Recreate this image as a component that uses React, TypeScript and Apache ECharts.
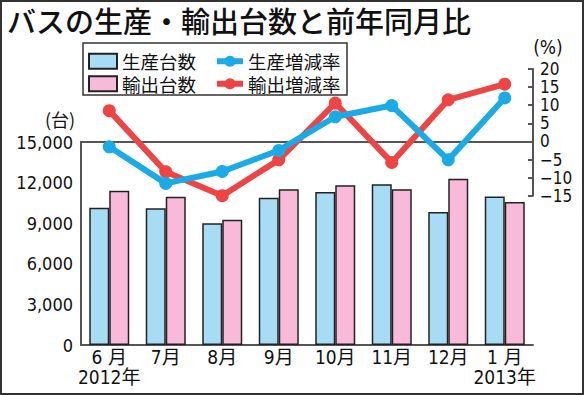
import React, { useEffect, useRef } from "react";
import * as echarts from "echarts";

const categories = ["6 月", "7月", "8月", "9月", "10月", "11月", "12月", "1 月"];
const yearLabels = ["2012年", "", "", "", "", "", "", "2013年"];
const productionUnits = [10150, 10100, 9000, 10880, 11300, 11870, 9830, 10980];
const exportUnits = [11400, 10950, 9250, 11500, 11800, 11500, 12290, 10560];
const productionChange = [-1.5, -11.6, -8.3, -2.5, 6.8, 9.9, -5.1, 12.0];
const exportChange = [8.5, -8.4, -15.0, -5.1, 10.6, -5.8, 11.5, 15.8];

const NUM_FONT = "'DejaVu Sans Condensed', 'Noto Sans CJK JP', sans-serif";
const JP_FONT = "'Noto Sans CJK JP', sans-serif";

const BLUE_BAR = "#a7dcf5";
const PINK_BAR = "#f9b9d8";
const BLUE_LINE = "#1aabe6";
const RED_LINE = "#ee4443";
const AXIS = "#555555";

export default function App() {
  const ref = useRef<HTMLDivElement>(null);
  useEffect(() => {
    document.body.style.margin = "0";
    const chart = echarts.init(ref.current!, null, { renderer: "svg" });
    chart.setOption({
      animation: false,
      backgroundColor: "#ffffff",
      title: {
        text: "バスの生産・輸出台数と前年同月比",
        left: 7,
        top: 5,
        padding: 0,
        textStyle: { fontFamily: JP_FONT, fontSize: 29, fontWeight: 500, color: "#111" },
      },
      legend: [
        {
          data: ["生産台数", "輸出台数"],
          orient: "vertical",
          left: 88,
          top: 52,
          padding: 0,
          itemWidth: 28,
          itemHeight: 15,
          itemGap: 4,
          icon: "rect",
          textStyle: { fontFamily: JP_FONT, fontSize: 18.5, lineHeight: 18, color: "#111" },
        },
        {
          data: ["生産増減率", "輸出増減率"],
          orient: "vertical",
          left: 214,
          top: 52,
          padding: 0,
          itemWidth: 26,
          itemHeight: 14,
          itemGap: 4,
          lineStyle: { width: 6 },
          textStyle: { fontFamily: JP_FONT, fontSize: 18.5, lineHeight: 18, color: "#111" },
        },
      ],
      grid: [
        { left: 81, right: 51, top: 142, bottom: 50 },
        { left: 81, right: 51, top: 69, bottom: 199.3 },
      ],
      xAxis: [
        {
          type: "category",
          gridIndex: 0,
          data: categories,
          axisLine: { show: true, lineStyle: { color: AXIS, width: 2 } },
          axisTick: { show: false },
          axisLabel: {
            margin: 2,
            interval: 0,
            formatter: (value: string, index: number) =>
              yearLabels[index] ? `{m|${value}}\n{y|${yearLabels[index]}}` : `{m|${value}}`,
            rich: {
              m: { fontFamily: NUM_FONT, fontSize: 19, lineHeight: 20, color: "#111" },
              y: { fontFamily: NUM_FONT, fontSize: 19, lineHeight: 20, color: "#111" },
            },
          },
        },
        {
          type: "category",
          gridIndex: 1,
          data: categories,
          axisLine: { show: true, onZero: true, lineStyle: { color: AXIS, width: 2 } },
          axisTick: { show: false },
          axisLabel: { show: false },
        },
      ],
      yAxis: [
        {
          type: "value",
          gridIndex: 0,
          min: 0,
          max: 15000,
          interval: 3000,
          axisLine: { show: true, lineStyle: { color: AXIS, width: 2 } },
          axisTick: { show: false },
          splitLine: { show: false },
          axisLabel: {
            margin: 8,
            fontFamily: NUM_FONT,
            fontSize: 18,
            color: "#111",
            formatter: (v: number) => v.toLocaleString("en-US"),
          },
        },
        {
          type: "value",
          gridIndex: 1,
          position: "right",
          min: -15,
          max: 20,
          interval: 5,
          axisLine: { show: true, lineStyle: { color: AXIS, width: 2 } },
          axisTick: { show: true, inside: true, length: 5, lineStyle: { color: AXIS, width: 2 } },
          splitLine: { show: false },
          axisLabel: {
            margin: 7,
            fontFamily: NUM_FONT,
            fontSize: 17,
            lineHeight: 15,
            color: "#111",
            showMinLabel: true,
            showMaxLabel: true,
            hideOverlap: false,
            formatter: (v: number) => (v < 0 ? "−" + Math.abs(v) : String(v)),
          },
        },
      ],
      series: [
        {
          name: "生産台数",
          type: "bar",
          xAxisIndex: 0,
          yAxisIndex: 0,
          data: productionUnits,
          barWidth: 20,
          barGap: "0%",
          itemStyle: { color: BLUE_BAR, borderColor: "#222", borderWidth: 1.5 },
        },
        {
          name: "輸出台数",
          type: "bar",
          xAxisIndex: 0,
          yAxisIndex: 0,
          data: exportUnits,
          barWidth: 20,
          barGap: "0%",
          itemStyle: { color: PINK_BAR, borderColor: "#222", borderWidth: 1.5 },
        },
        {
          name: "輸出増減率",
          type: "line",
          xAxisIndex: 1,
          yAxisIndex: 1,
          data: exportChange,
          symbol: "circle",
          symbolSize: 13,
          lineStyle: { color: RED_LINE, width: 6 },
          itemStyle: { color: RED_LINE },
          z: 5,
        },
        {
          name: "生産増減率",
          type: "line",
          xAxisIndex: 1,
          yAxisIndex: 1,
          data: productionChange,
          symbol: "circle",
          symbolSize: 13,
          lineStyle: { color: BLUE_LINE, width: 6 },
          itemStyle: { color: BLUE_LINE },
          z: 6,
        },
      ],
      graphic: [
        {
          type: "rect",
          shape: { x: 1, y: 1, width: 582, height: 393 },
          style: { fill: "none", stroke: "#333", lineWidth: 2 },
          z: 100,
        },
        {
          type: "rect",
          shape: { x: 83, y: 43, width: 264, height: 52 },
          style: { fill: "none", stroke: "#333", lineWidth: 1.5 },
          z: 100,
        },
        {
          type: "text",
          x: 60,
          y: 119,
          style: {
            text: "(台)",
            fontFamily: JP_FONT,
            fontSize: 18,
            fill: "#111",
            align: "center",
            verticalAlign: "middle",
          },
        },
        {
          type: "text",
          x: 548,
          y: 47,
          style: {
            text: "(%)",
            fontFamily: NUM_FONT,
            fontSize: 19,
            fill: "#111",
            align: "center",
            verticalAlign: "middle",
          },
        },
      ],
    });
    return () => chart.dispose();
  }, []);
  return <div ref={ref} style={{ width: 584, height: 395 }} />;
}
